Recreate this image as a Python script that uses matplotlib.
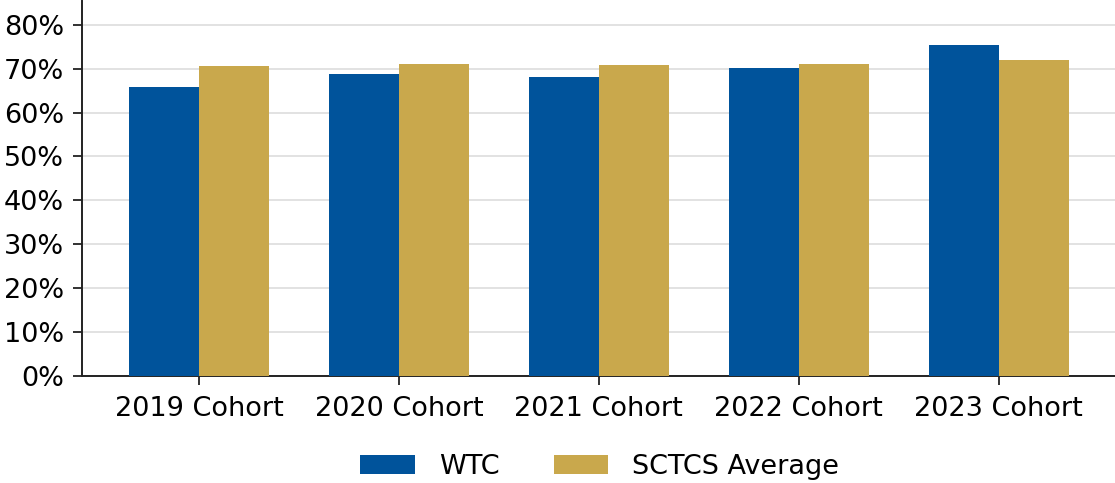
import numpy as np
import matplotlib.pyplot as plt
from matplotlib.ticker import PercentFormatter

cohorts = ['2019 Cohort', '2020 Cohort', '2021 Cohort', '2022 Cohort', '2023 Cohort']
wtc = [65.8, 68.8, 68.1, 70.2, 75.3]
sctcs = [70.5, 71.1, 70.8, 71.1, 72.0]

blue = '#00539B'
gold = '#C9A84C'

fig = plt.figure(figsize=(11.15, 4.83), dpi=100)
ax = fig.add_axes([0.0735, 0.2215, 0.927, 0.7765])

x = np.arange(len(cohorts))
w = 0.35
ax.bar(x - w / 2, wtc, w, color=blue, label='WTC', zorder=3)
ax.bar(x + w / 2, sctcs, w, color=gold, label='SCTCS Average', zorder=3)

ax.set_ylim(0, 85.4)
ax.set_yticks(range(0, 81, 10))
ax.yaxis.set_major_formatter(PercentFormatter(decimals=0))
ax.set_xticks(x)
ax.set_xticklabels(cohorts)

ax.grid(axis='y', color='#dddddd', linewidth=1.2, zorder=0)
ax.spines['top'].set_visible(False)
ax.spines['right'].set_visible(False)
for s in ['left', 'bottom']:
    ax.spines[s].set_linewidth(1.4)
    ax.spines[s].set_color('#222222')
ax.tick_params(labelsize=19.5, length=6.5, width=1.3, color='#222222')
ax.tick_params(axis='x', pad=8)
ax.tick_params(axis='y', pad=6.5)

fig.legend(loc='center', bbox_to_anchor=(0.538, 0.033), ncol=2, frameon=False,
           fontsize=19.5, handlelength=2.0, handleheight=0.7, handletextpad=0.9,
           columnspacing=2.0)

fig.savefig('out.png', dpi=100)
